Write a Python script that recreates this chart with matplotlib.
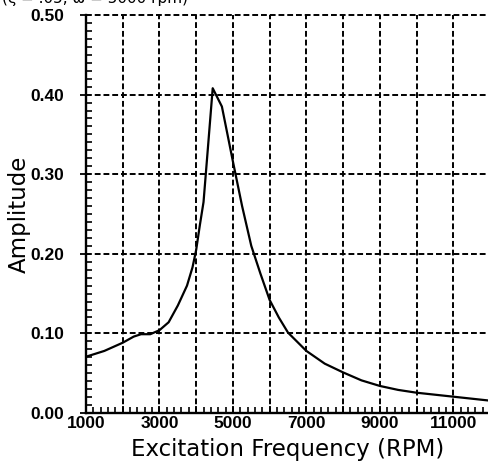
import matplotlib
matplotlib.use("Agg")
import matplotlib.pyplot as plt
from matplotlib.ticker import MultipleLocator, FuncFormatter
from matplotlib.font_manager import FontProperties

# Data
rpm = [1000, 1500, 2000, 2300, 2500, 2750, 3000, 3250, 3500, 3750, 3900, 4000,
       4100, 4200, 4300, 4450, 4700, 5000, 5250, 5500, 5750, 6000, 6250, 6500,
       7000, 7500, 8000, 8500, 9000, 9500, 10000, 10500, 11000, 11500, 12000]
amplitude = [0.0707, 0.078, 0.0883, 0.096, 0.099, 0.099, 0.104, 0.114, 0.135,
             0.160, 0.183, 0.205, 0.236, 0.265, 0.322, 0.408, 0.385, 0.316,
             0.260, 0.210, 0.175, 0.142, 0.120, 0.101, 0.078, 0.062, 0.051,
             0.041, 0.034, 0.029, 0.0255, 0.023, 0.0205, 0.018, 0.0155]
x_tick_labels = ["1000", "3000", "5000", "7000", "9000", "11000"]
y_tick_labels = ["0.00", "0.10", "0.20", "0.30", "0.40", "0.50"]

W, H = 489, 465
fig = plt.figure(figsize=(W / 100, H / 100), dpi=100)
ax = fig.add_axes([86 / W, (H - 413) / H, (490 - 86) / W, (413 - 15) / H])

ax.plot(rpm, amplitude, color="black", lw=1.6, zorder=3)

ax.set_xlim(1000, 12000)
ax.set_ylim(0, 0.5)

# grid
for xv in range(2000, 12001, 1000):
    ax.axvline(xv, color="black", lw=1.4, linestyle=(0, (3, 1.5)), zorder=1)
for yv in [0.1, 0.2, 0.3, 0.4, 0.5]:
    ax.axhline(yv, color="black", lw=1.4, linestyle=(0, (3, 1.5)), zorder=1, clip_on=False)

ax.spines["top"].set_visible(False)
ax.spines["right"].set_visible(False)
ax.spines["left"].set_linewidth(1.7)
ax.spines["bottom"].set_linewidth(1.7)

ax.xaxis.set_major_locator(MultipleLocator(1000))
ax.xaxis.set_minor_locator(MultipleLocator(200))
ax.yaxis.set_minor_locator(MultipleLocator(0.01))

x_lab_map = {int(t): t for t in x_tick_labels}
ax.xaxis.set_major_formatter(FuncFormatter(lambda v, p: x_lab_map.get(int(round(v)), "")))
ax.set_yticks([0, 0.1, 0.2, 0.3, 0.4, 0.5])
ax.set_yticklabels(y_tick_labels)

tick_fp = FontProperties(family="Liberation Sans", weight="bold", size=12.5)
for lab in ax.get_xticklabels() + ax.get_yticklabels():
    lab.set_fontproperties(tick_fp)

ax.tick_params(axis="x", which="major", direction="in", length=5, width=1.3, pad=2)
ax.tick_params(axis="x", which="minor", direction="in", length=4.5, width=1.2)
ax.tick_params(axis="y", which="major", direction="out", length=4, width=1.3, pad=12)
ax.tick_params(axis="y", which="minor", direction="in", length=4.5, width=1.2)

ax.set_xlabel("Excitation Frequency (RPM)", fontsize=16.5, family="DejaVu Sans",
              labelpad=5)
ax.set_ylabel("Amplitude", fontsize=16.5, family="DejaVu Sans", labelpad=-1)

fig.text(0.005, 1 - 3 / H, "(ζ = .05, ω = 5000 rpm)", fontsize=11,
         family="DejaVu Sans", va="baseline", ha="left")

fig.savefig("out.png", dpi=100)
